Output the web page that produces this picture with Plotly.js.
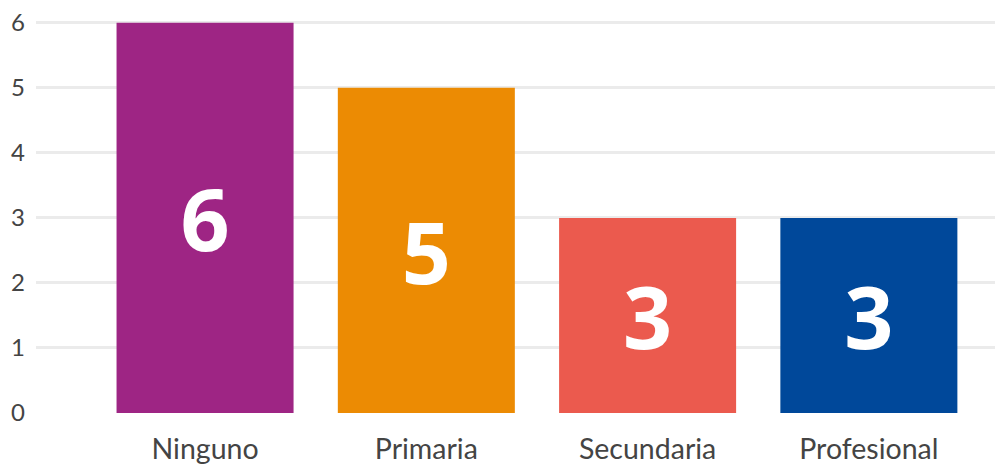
<!DOCTYPE html>
<html>
<head>
<meta charset="utf-8">
<script src="https://cdn.plot.ly/plotly-3.0.1.min.js"></script>
<style>html,body{margin:0;padding:0;background:#fff;}#chart{width:995px;height:464px;}</style>
</head>
<body>
<div id="chart"></div>
<script>
const categories = ["Ninguno", "Primaria", "Secundaria", "Profesional"];
const values = [6, 5, 3, 3];
const barColors = ["#9E2584", "#EC8B03", "#EB5A4E", "#00489A"];
const yTicks = [0, 1, 2, 3, 4, 5, 6];

const trace = {
  type: "bar",
  x: categories,
  y: values,
  marker: { color: barColors },
  texttemplate: "%{y}",
  textposition: "inside",
  insidetextanchor: "middle",
  constraintext: "none",
  textfont: { family: "Open Sans", size: 86, color: "#ffffff", weight: 700 },
  hoverinfo: "none"
};

const layout = {
  width: 995,
  height: 464,
  margin: { l: 36, r: 0, t: 0, b: 51 },
  paper_bgcolor: "#ffffff",
  plot_bgcolor: "#ffffff",
  bargap: 0.2,
  showlegend: false,
  xaxis: {
    type: "category",
    range: [-0.764, 3.57],
    showgrid: false,
    zeroline: false,
    showline: false,
    ticks: "",
    tickfont: { family: "Lato", size: 28.5, color: "#444444" },
    ticklabelstandoff: 16
  },
  yaxis: {
    range: [0, 6.35],
    tickvals: yTicks,
    showgrid: true,
    gridcolor: "#ebebeb",
    gridwidth: 3,
    zeroline: false,
    showline: false,
    ticks: "",
    tickfont: { family: "Lato", size: 24, color: "#444444" },
    ticklabelstandoff: 10
  }
};

Plotly.newPlot("chart", [trace], layout, { staticPlot: true, displayModeBar: false });
</script>
</body>
</html>
